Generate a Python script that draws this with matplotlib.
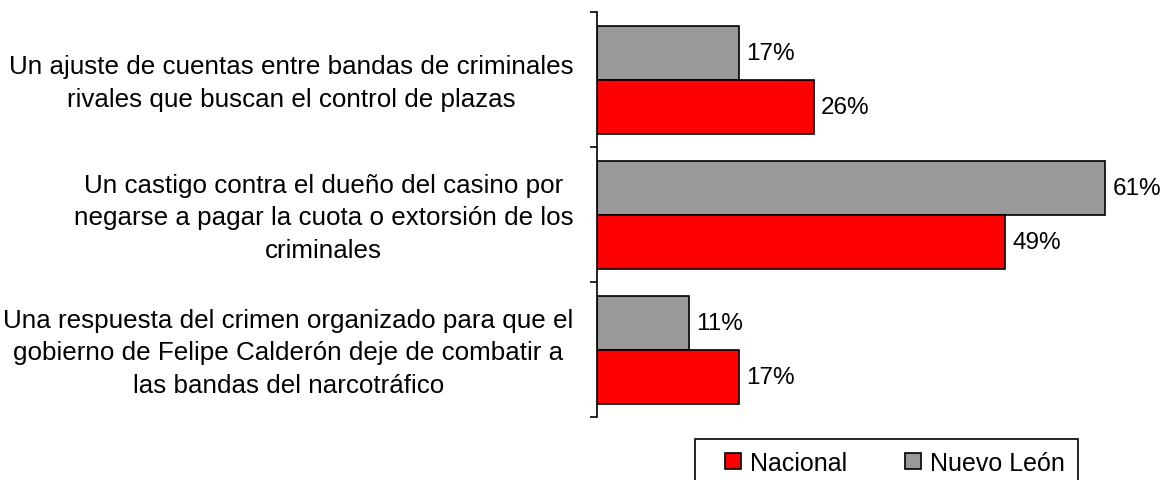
import numpy as np
import matplotlib.pyplot as plt
from matplotlib.patches import Rectangle
from matplotlib.transforms import ScaledTranslation

plt.rcParams['font.family'] = ['Liberation Sans', 'DejaVu Sans']

# Datos
categorias = [
    "Un ajuste de cuentas entre bandas de criminales\nrivales que buscan el control de plazas",
    "Un castigo contra el dueño del casino por\nnegarse a pagar la cuota o extorsión de los\ncriminales",
    "Una respuesta del crimen organizado para que el\ngobierno de Felipe Calderón deje de combatir a\nlas bandas del narcotráfico",
]
nuevo_leon = [17, 61, 11]
nacional = [26, 49, 17]

W, H = 1164, 481
fig = plt.figure(figsize=(W / 100, H / 100), dpi=100)
ax = fig.add_axes([597 / W, 1 - 418 / H, 1 - 597 / W, (418 - 13) / H])

y = np.arange(len(categorias))
h = 0.4
b_nl = ax.barh(y - h / 2, nuevo_leon, height=h, color='#999999',
               edgecolor='black', linewidth=1.2, label='Nuevo León')
b_na = ax.barh(y + h / 2, nacional, height=h, color='#ff0000',
               edgecolor='black', linewidth=1.2, label='Nacional')

for bars, vals in ((b_nl, nuevo_leon), (b_na, nacional)):
    for bar, v in zip(bars, vals):
        ax.annotate(f"{v}%", (bar.get_width(), bar.get_y() + bar.get_height() / 2),
                    xytext=(5.5, 0), textcoords='offset points',
                    va='center', ha='left', fontsize=17.5)

ax.set_xlim(0, (W - 597) / 8.33)
ax.set_ylim(2.5, -0.5)

ax.set_yticks(y)
ax.set_yticklabels(categorias, fontsize=18.7, ha='right', multialignment='center',
                   linespacing=1.45)
ax.tick_params(axis='y', which='major', length=0, pad=17)
ax.set_yticks(np.arange(-0.5, 3, 1), minor=True)
ax.tick_params(axis='y', which='minor', length=5, width=1.2, color='black')
ax.set_xticks([])
up = ScaledTranslation(0, 4 / 100, fig.dpi_scale_trans)
for lbl in ax.get_yticklabels():
    lbl.set_transform(lbl.get_transform() + up)

for s in ('top', 'right', 'bottom'):
    ax.spines[s].set_visible(False)
ax.spines['left'].set_linewidth(1.2)

# marco de la leyenda (cortado por el borde inferior)
fig.patches.append(Rectangle((695 / W, 1 - 492 / H), (1078 - 695) / W, 52 / H,
                             transform=fig.transFigure, facecolor='white',
                             edgecolor='black', linewidth=1.2))
fig.legend([b_na, b_nl], ['Nacional', 'Nuevo León'], ncol=2,
           loc='center left', bbox_to_anchor=(725 / W, 1 - 464 / H),
           fontsize=18, frameon=False, handlelength=0.64, handleheight=0.64,
           handletextpad=0.36, columnspacing=2.3, borderpad=0,
           borderaxespad=0)

fig.savefig('out.png', dpi=100)
